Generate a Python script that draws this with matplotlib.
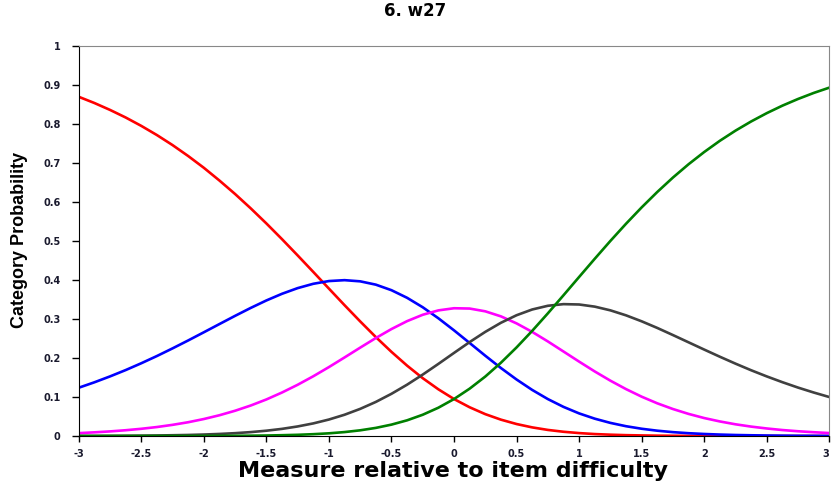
import matplotlib
matplotlib.use("Agg")
import matplotlib.pyplot as plt

# measure values (logits) at which the curves were read
measure = [-3.0, -2.875, -2.75, -2.625, -2.5, -2.375, -2.25, -2.125, -2.0, -1.875,
           -1.75, -1.625, -1.5, -1.375, -1.25, -1.125, -1.0, -0.875, -0.75, -0.625,
           -0.5, -0.375, -0.25, -0.125, 0.0, 0.125, 0.25, 0.375, 0.5, 0.625,
           0.75, 0.875, 1.0, 1.125, 1.25, 1.375, 1.5, 1.625, 1.75, 1.875,
           2.0, 2.125, 2.25, 2.375, 2.5, 2.625, 2.75, 2.875, 3.0]

cat_red = [0.8687, 0.8528, 0.8351, 0.8157, 0.7942, 0.7707, 0.7450, 0.7170, 0.6869, 0.6542,
           0.6197, 0.5830, 0.5444, 0.5041, 0.4625, 0.4202, 0.3775, 0.3350, 0.2935, 0.2534,
           0.2155, 0.1802, 0.1481, 0.1196, 0.0947, 0.0736, 0.0560, 0.0419, 0.0307, 0.0221,
           0.0156, 0.0109, 0.0075, 0.0050, 0.0034, 0.0022, 0.0015, 0.0009, 0.0006, 0.0004,
           0.0002, 0.0002, 0.0001, 0.0001, 0.0000, 0.0000, 0.0000, 0.0000, 0.0000]
cat_blue = [0.1236, 0.1375, 0.1526, 0.1688, 0.1863, 0.2048, 0.2244, 0.2447, 0.2656, 0.2867,
            0.3077, 0.3280, 0.3471, 0.3642, 0.3787, 0.3898, 0.3968, 0.3991, 0.3961, 0.3876,
            0.3734, 0.3539, 0.3297, 0.3015, 0.2706, 0.2382, 0.2056, 0.1741, 0.1447, 0.1180,
            0.0946, 0.0746, 0.0579, 0.0444, 0.0336, 0.0251, 0.0186, 0.0136, 0.0099, 0.0072,
            0.0052, 0.0037, 0.0026, 0.0019, 0.0013, 0.0009, 0.0006, 0.0005, 0.0003]
cat_magenta = [0.0074, 0.0094, 0.0118, 0.0148, 0.0185, 0.0230, 0.0286, 0.0353, 0.0435, 0.0532,
               0.0647, 0.0781, 0.0936, 0.1114, 0.1312, 0.1530, 0.1765, 0.2012, 0.2263, 0.2509,
               0.2739, 0.2942, 0.3105, 0.3217, 0.3272, 0.3264, 0.3193, 0.3064, 0.2884, 0.2666,
               0.2422, 0.2164, 0.1905, 0.1653, 0.1417, 0.1201, 0.1007, 0.0837, 0.0691, 0.0566,
               0.0460, 0.0373, 0.0300, 0.0241, 0.0193, 0.0153, 0.0122, 0.0097, 0.0076]
cat_gray = [0.0002, 0.0003, 0.0005, 0.0007, 0.0010, 0.0014, 0.0020, 0.0027, 0.0038, 0.0053,
            0.0073, 0.0100, 0.0136, 0.0183, 0.0245, 0.0323, 0.0422, 0.0545, 0.0695, 0.0873,
            0.1081, 0.1315, 0.1573, 0.1847, 0.2128, 0.2406, 0.2667, 0.2900, 0.3093, 0.3240,
            0.3335, 0.3377, 0.3368, 0.3313, 0.3218, 0.3090, 0.2937, 0.2767, 0.2585, 0.2399,
            0.2213, 0.2030, 0.1853, 0.1684, 0.1526, 0.1378, 0.1240, 0.1114, 0.0998]
cat_green = [0.0000, 0.0000, 0.0000, 0.0000, 0.0000, 0.0001, 0.0001, 0.0001, 0.0002, 0.0004,
             0.0006, 0.0009, 0.0013, 0.0021, 0.0031, 0.0047, 0.0069, 0.0101, 0.0146, 0.0208,
             0.0292, 0.0402, 0.0545, 0.0725, 0.0947, 0.1213, 0.1523, 0.1877, 0.2269, 0.2693,
             0.3141, 0.3604, 0.4073, 0.4539, 0.4996, 0.5436, 0.5855, 0.6250, 0.6619, 0.6960,
             0.7273, 0.7560, 0.7820, 0.8055, 0.8268, 0.8460, 0.8631, 0.8785, 0.8921]

x_ticks = [-3, -2.5, -2, -1.5, -1, -0.5, 0, 0.5, 1, 1.5, 2, 2.5, 3]
x_tick_labels = ["-3", "-2.5", "-2", "-1.5", "-1", "-0.5", "0", "0.5", "1", "1.5", "2", "2.5", "3"]
y_ticks = [0, 0.1, 0.2, 0.3, 0.4, 0.5, 0.6, 0.7, 0.8, 0.9, 1]
y_tick_labels = ["0", "0.1", "0.2", "0.3", "0.4", "0.5", "0.6", "0.7", "0.8", "0.9", "1"]

plt.rcParams['font.family'] = ['DejaVu Sans']

fig = plt.figure(figsize=(8.31, 4.82), dpi=100)
ax = fig.add_axes([0.0947, 0.0954, 0.9033, 0.8102])

lw = 1.9
ax.plot(measure, cat_red, color='#ff0000', lw=lw)
ax.plot(measure, cat_blue, color='#0000ff', lw=lw)
ax.plot(measure, cat_magenta, color='#ff00ff', lw=lw)
ax.plot(measure, cat_gray, color='#404040', lw=lw)
ax.plot(measure, cat_green, color='#008000', lw=lw)

ax.set_xlim(-3, 3)
ax.set_ylim(0, 1)
ax.set_xticks(x_ticks)
ax.set_xticklabels(x_tick_labels)
ax.set_yticks(y_ticks)
ax.set_yticklabels(y_tick_labels)
ax.tick_params(axis='y', direction='out', length=5, width=1, labelsize=7, pad=8)
ax.tick_params(axis='x', direction='out', length=4, width=1, labelsize=7, pad=5)
for lab in ax.get_xticklabels() + ax.get_yticklabels():
    lab.set_fontweight('bold')
    lab.set_color('#1a1a2e')
# keep the last x label inside the figure
ax.get_xticklabels()[-1].set_horizontalalignment('right')

ax.spines['top'].set_color('#888888')
ax.spines['right'].set_color('#888888')
ax.spines['left'].set_color('black')
ax.spines['bottom'].set_color('black')

fig.text(0.5, 0.978, "6. w27", ha='center', va='center', fontsize=12, fontweight='bold')
fig.text(0.5455, 0.0098, "Measure relative to item difficulty", ha='center', va='baseline',
         fontsize=16, fontweight='bold')
fig.text(0.024, 0.502, "Category Probability", ha='center', va='center', rotation=90,
         fontsize=13, fontweight='bold', family=['Liberation Sans', 'DejaVu Sans'])

fig.savefig("out.png", dpi=100)
